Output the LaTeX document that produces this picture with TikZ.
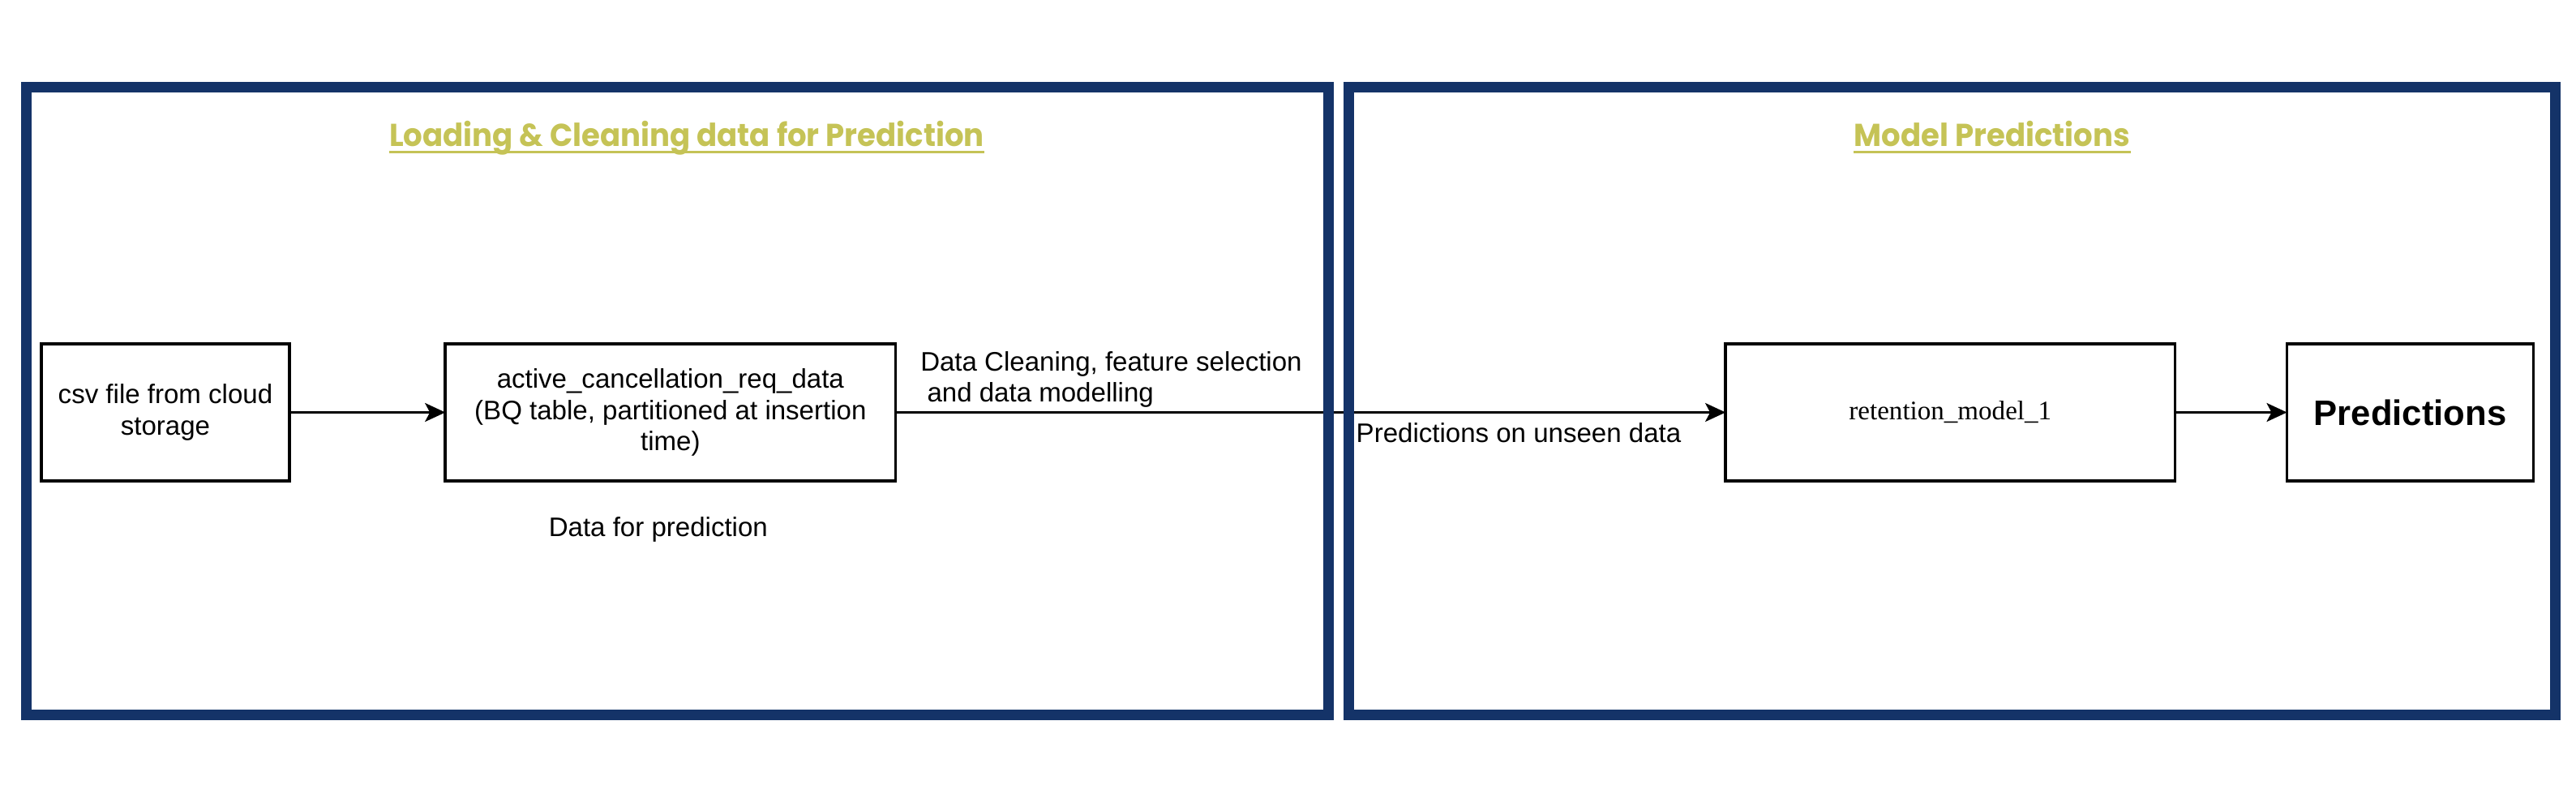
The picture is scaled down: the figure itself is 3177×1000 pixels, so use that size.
\documentclass[tikz,border=0pt]{standalone}
\usepackage{fontspec}
\setsansfont{Liberation Sans}
\newfontfamily\modelfont{Liberation Serif}
\newfontfamily\titlefont[FakeStretch=0.95]{Poppins}
\usepackage{tikz}
\usetikzlibrary{arrows.meta, positioning}
\definecolor{framenavy}{RGB}{20, 51, 104}
\definecolor{titleolive}{RGB}{197, 195, 86}
\tikzset{
  font=\sffamily\fontsize{9.4}{10.9}\selectfont,
  baseblock/.style={
    rectangle, draw=black, line width=1pt,
    minimum height=1.69cm, align=center,
    inner sep=0pt, outer sep=0pt
  },
  stageframe/.style={draw=framenavy, line width=3.7pt},
  stagetitle/.style={
    font=\titlefont\bfseries\fontsize{11.1}{13}\selectfont,
    text=titleolive, inner sep=0pt
  },
  titleline/.style={draw=titleolive, line width=0.8pt},
  edgelabel/.style={align=left, inner sep=0pt},
  flowline/.style={
    draw=black, line width=0.85pt,
    -{Stealth[length=2.5mm, width=2.3mm, inset=0.6mm]}
  }
}

\begin{document}
\begin{tikzpicture}[x=0.01cm, y=-0.01cm]
  \useasboundingbox (0,0) rectangle (3177,1000);

  % Stage 1: loading and cleaning
  \node[baseblock, minimum width=3.06cm] (csv) at (204,508.5) {csv file from cloud\\storage};
  \node[baseblock, right=1.92cm of csv, minimum width=5.55cm] (bqtable) {
    active\_cancellation\_req\_data\\
    (BQ table, partitioned at insertion\\
    time)
  };
  \node[edgelabel, below=0.44cm of bqtable, xshift=-0.15cm] (predlbl) {Data for prediction};

  % Stage 2: model predictions
  \node[baseblock, right=10.23cm of bqtable, minimum width=5.54cm,
        font=\modelfont\fontsize{9.4}{10.9}\selectfont] (model) {retention\_model\_1};
  \node[baseblock, right=1.38cm of model, minimum width=3.04cm,
        font=\sffamily\bfseries\fontsize{12.4}{14}\selectfont] (preds) {Predictions};

  \draw[flowline] (csv) -- (bqtable);
  \draw[flowline] (bqtable) -- (model);
  \draw[flowline] (model) -- (preds);

  \node[edgelabel, anchor=north west] (cleanlbl) at ([xshift=0.30cm, yshift=0.76cm]bqtable.east) {
    Data Cleaning, feature selection\\
    \hspace*{0.25em}and data modelling
  };
  \node[edgelabel, anchor=north west] (unseenlbl) at (1672,521) {Predictions on unseen data};

  % Frames
  \draw[stageframe] (32.5,107.5) rectangle (1638.5,881);
  \draw[stageframe] (1663.5,107.5) rectangle (3151.5,881);

  \node[stagetitle, anchor=base] (loadtitle) at (847,180) {Loading \& Cleaning data for Prediction};
  \draw[titleline] ([yshift=-0.075cm]loadtitle.base west) -- ([yshift=-0.075cm]loadtitle.base east);
  \node[stagetitle, anchor=base] (modeltitle) at (2457,180) {Model Predictions};
  \draw[titleline] ([yshift=-0.075cm]modeltitle.base west) -- ([yshift=-0.075cm]modeltitle.base east);
\end{tikzpicture}
\end{document}
